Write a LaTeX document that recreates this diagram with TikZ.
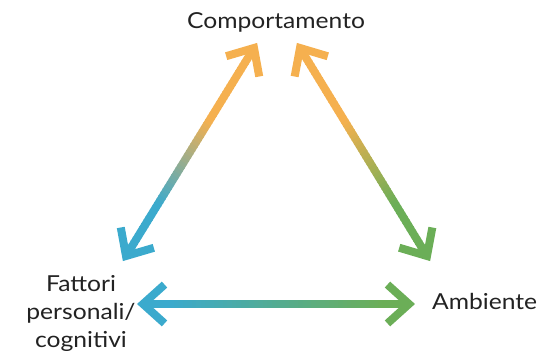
\documentclass[tikz,border=0pt]{standalone}
\usepackage{fontspec}
\setmainfont{Lato}[FakeStretch=1.12]
\usetikzlibrary{calc}
\definecolor{cor}{HTML}{F5B04F}
\definecolor{cbl}{HTML}{3BAACD}
\definecolor{cgr}{HTML}{6BAE57}
\definecolor{ctx}{HTML}{222222}
\begin{document}
\begin{tikzpicture}[x=1pt,y=-1pt,
  body/.style={line width=8pt, line cap=butt},
  head/.style={line width=8pt, line cap=butt, line join=miter},
  lbl/.style={font=\fontsize{22}{28}\selectfont, text=ctx, inner sep=0pt}]
\useasboundingbox (0,0) rectangle (552,356);
% labels
\node[lbl] (comp) at (276,22) {Comportamento};
\node[lbl, anchor=west] (amb) at (432,301) {Ambiente};
\node[lbl, align=center] (fat) at (81,313) {Fattori\\personali/\\cognitivi};
% arrow end points
\coordinate (LT) at (254,48);
\coordinate (LB) at (126,256);
\coordinate (RT) at (300,48);
\coordinate (RB) at (427,256);
\coordinate (HL) at (143,304);
\coordinate (HR) at (409,304);
% left diagonal: orange -> blue
\foreach \i in {0,...,59}{
  \pgfmathsetmacro\ta{\i/60}
  \pgfmathsetmacro\tb{min(1,(\i+1.3)/60)}
  \pgfmathsetmacro\p{min(100,max(0,((\i+0.5)/60-0.35)/0.4*100))}
  \draw[body, color=cbl!\p!cor] ($(LT)!\ta!(LB)$) -- ($(LT)!\tb!(LB)$);
}
% right diagonal: orange -> green
\foreach \i in {0,...,59}{
  \pgfmathsetmacro\ta{\i/60}
  \pgfmathsetmacro\tb{min(1,(\i+1.3)/60)}
  \pgfmathsetmacro\p{min(100,max(0,((\i+0.5)/60-0.35)/0.4*100))}
  \draw[body, color=cgr!\p!cor] ($(RT)!\ta!(RB)$) -- ($(RT)!\tb!(RB)$);
}
% horizontal: blue -> green
\foreach \i in {0,...,59}{
  \pgfmathsetmacro\ta{\i/60}
  \pgfmathsetmacro\tb{min(1,(\i+1.3)/60)}
  \pgfmathsetmacro\p{min(100,max(0,((\i+0.5)/60-0.1)/0.8*100))}
  \draw[body, color=cgr!\p!cbl] ($(HL)!\ta!(HR)$) -- ($(HL)!\tb!(HR)$);
}
% heads
\draw[head, cor] ($(LT)!29pt!42:(LB)$) -- (LT) -- ($(LT)!29pt!-42:(LB)$);
\draw[head, cbl] ($(LB)!29pt!42:(LT)$) -- (LB) -- ($(LB)!29pt!-42:(LT)$);
\draw[head, cor] ($(RT)!29pt!42:(RB)$) -- (RT) -- ($(RT)!29pt!-42:(RB)$);
\draw[head, cgr] ($(RB)!29pt!42:(RT)$) -- (RB) -- ($(RB)!29pt!-42:(RT)$);
\draw[head, cbl] ($(HL)!29pt!42:(HR)$) -- (HL) -- ($(HL)!29pt!-42:(HR)$);
\draw[head, cgr] ($(HR)!29pt!42:(HL)$) -- (HR) -- ($(HR)!29pt!-42:(HL)$);
\end{tikzpicture}
\end{document}
